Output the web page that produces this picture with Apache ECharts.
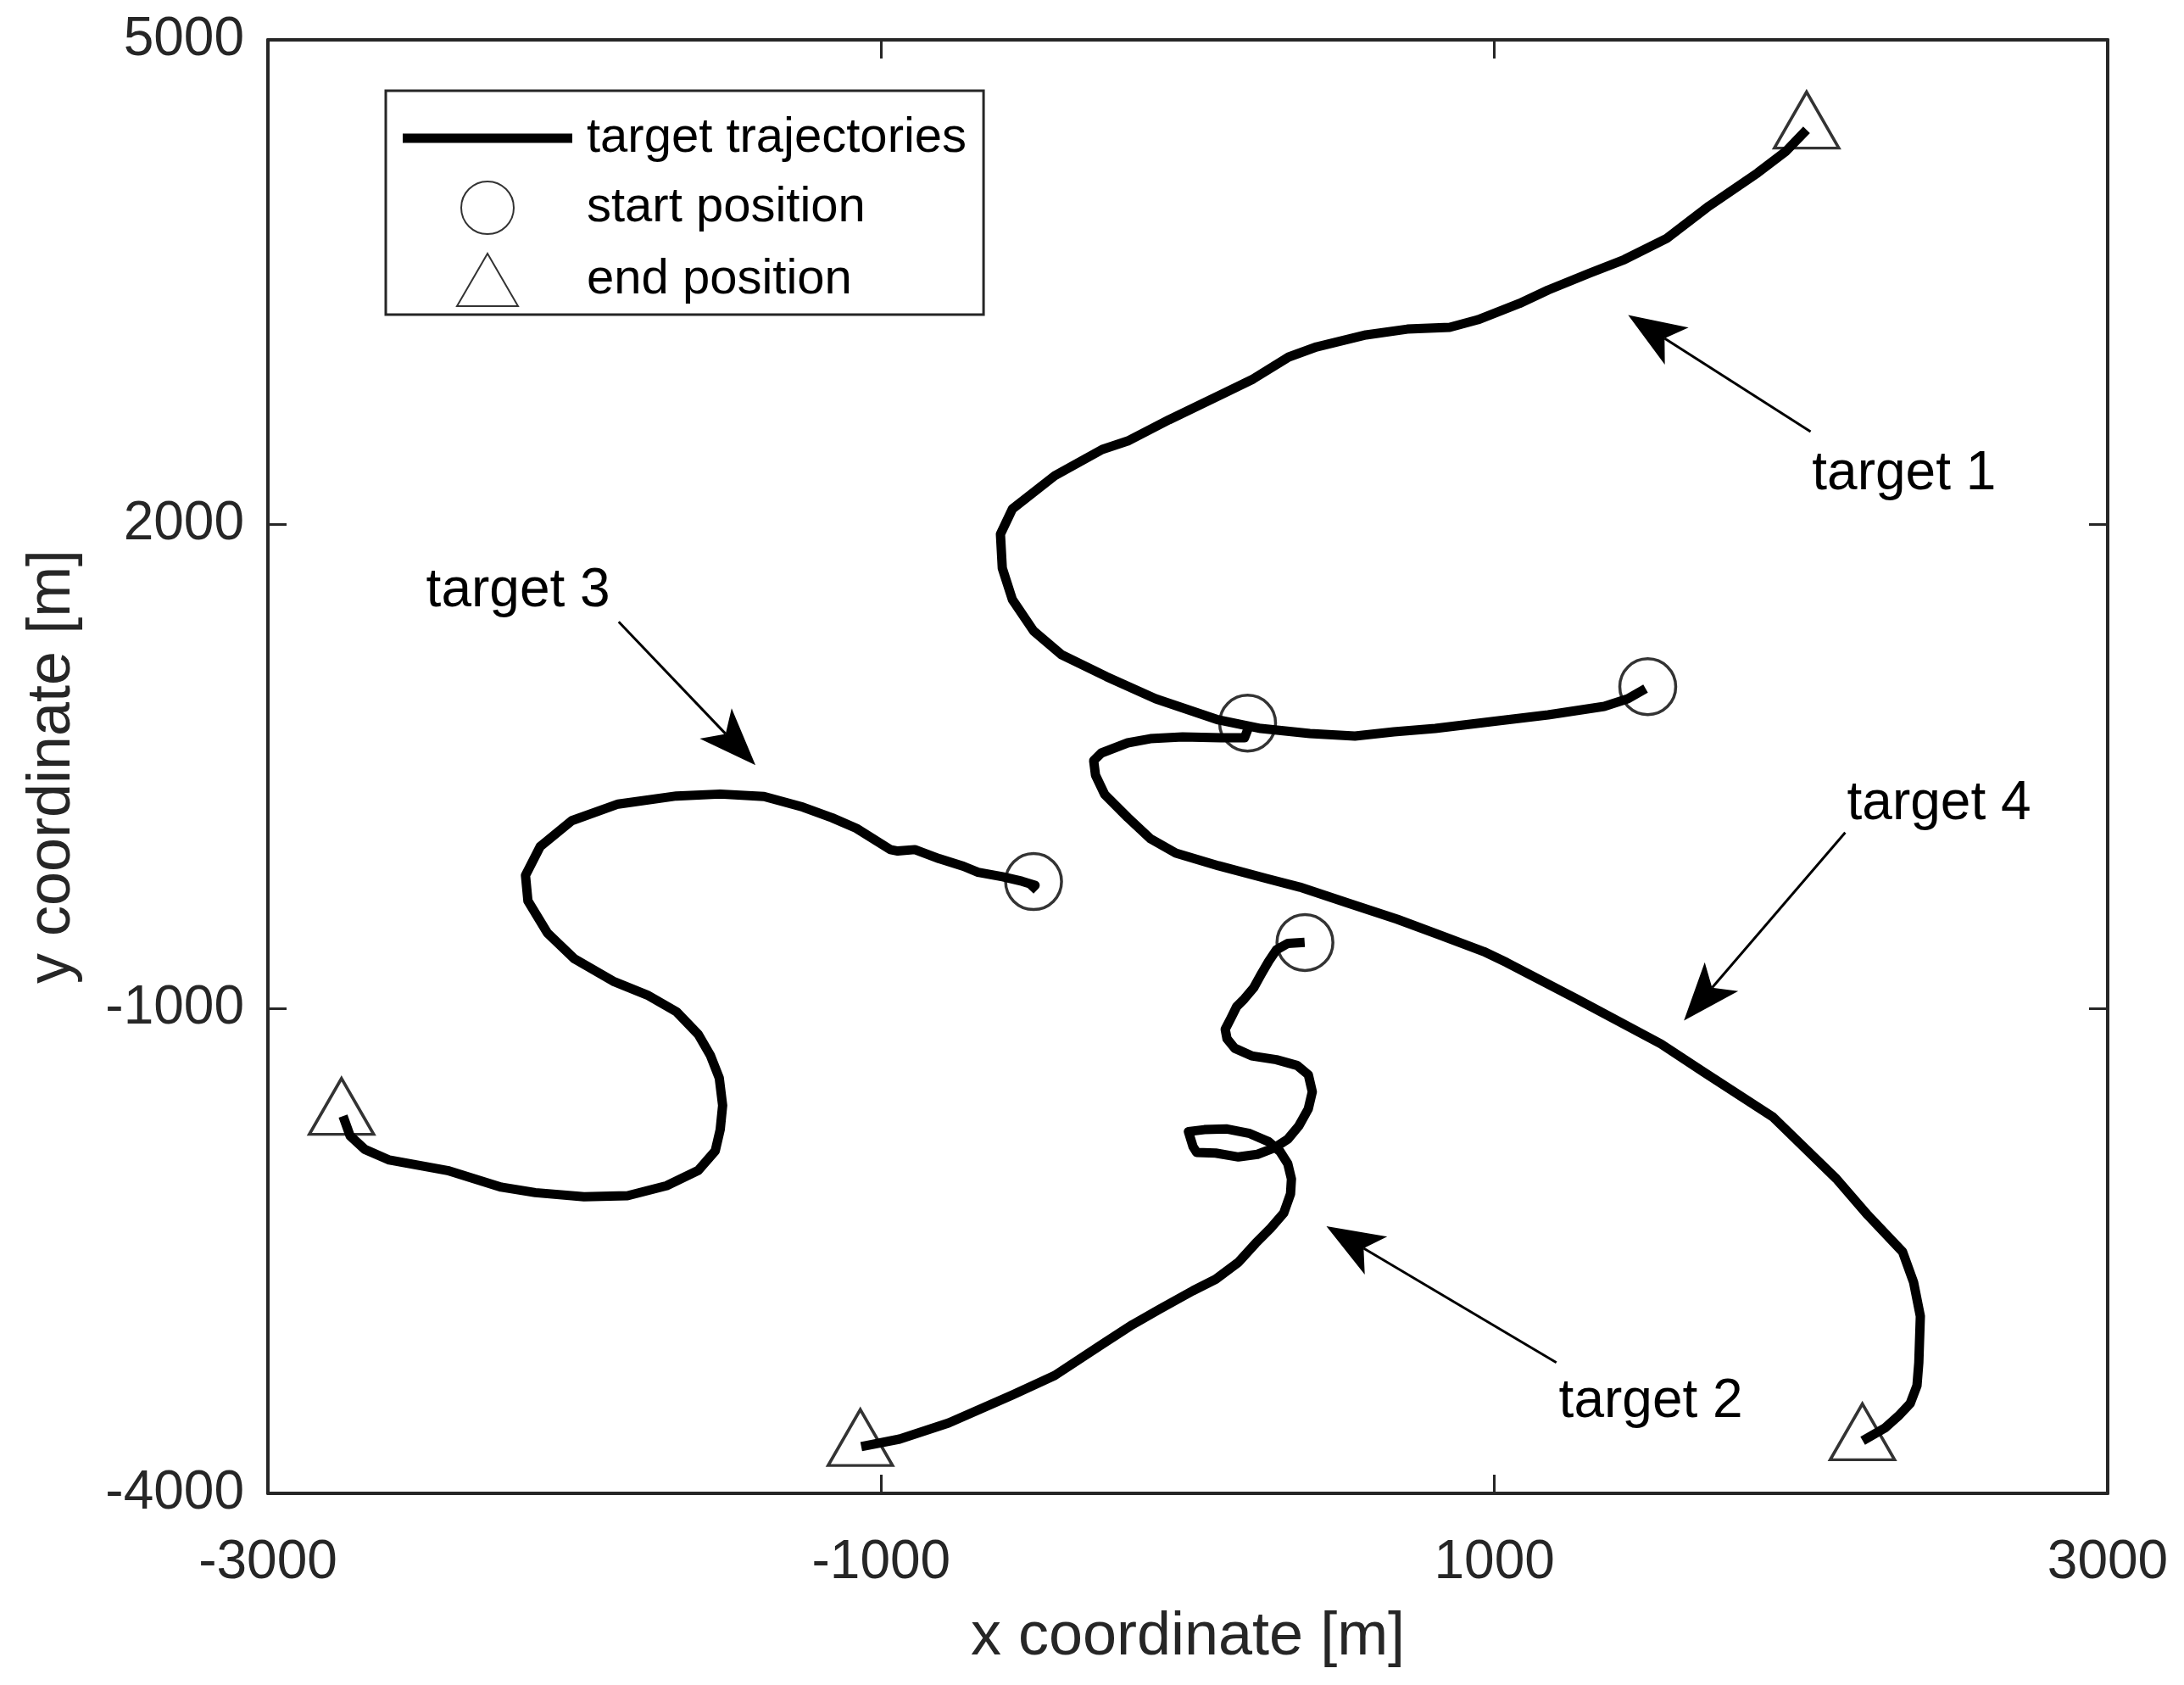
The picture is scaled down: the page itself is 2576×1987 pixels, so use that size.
<!DOCTYPE html>
<html>
<head>
<meta charset="utf-8">
<title>Target trajectories</title>
<script src="https://cdn.jsdelivr.net/npm/echarts@6/dist/echarts.min.js"></script>
<style>
  html, body { margin: 0; padding: 0; background: #fff; }
  #chart { width: 2576px; height: 1987px; }
</style>
</head>
<body>
<div id="chart"></div>
<script>
// axis ticks (m)
const xTicks = [-3000, -1000, 1000, 3000];
const yTicks = [-4000, -1000, 2000, 5000];

// trajectories (m)
const target1X = [1493, 1435, 1358, 1175, 990, 807, 672, 545, 398, 238, 100, -105, -265, -412, -503, -572, -605, -611, -572, -434, -279, -196, -61, 122, 213, 329, 420, 581, 716, 854, 946, 1081, 1175, 1311, 1424, 1562, 1700, 1858, 1949, 2018];
const target1Y = [983, 920, 873, 820, 778, 736, 715, 689, 705, 736, 789, 920, 1057, 1193, 1340, 1534, 1729, 1939, 2096, 2301, 2464, 2516, 2648, 2816, 2900, 3036, 3099, 3173, 3209, 3220, 3267, 3367, 3451, 3556, 3640, 3771, 3971, 4176, 4307, 4443];

const target2X = [381, 326, 289, 264, 239, 215, 184, 159, 141, 122, 128, 153, 208, 289, 356, 393, 406, 393, 362, 326, 282, 227, 165, 91, 29, 17, 2, 54, 128, 202, 264, 301, 326, 338, 335, 313, 270, 221, 165, 91, 17, -94, -181, -279, -434, -572, -780, -940, -1065];
const target2Y = [-588, -595, -635, -705, -787, -869, -939, -987, -1056, -1127, -1186, -1244, -1291, -1315, -1350, -1408, -1514, -1619, -1725, -1807, -1861, -1901, -1917, -1893, -1889, -1853, -1760, -1748, -1744, -1772, -1823, -1884, -1959, -2053, -2146, -2264, -2358, -2452, -2569, -2674, -2745, -2862, -2956, -3076, -3270, -3391, -3564, -3664, -3711];

const target3X = [-514, -498, -541, -604, -684, -732, -811, -890, -946, -970, -1081, -1160, -1255, -1382, -1525, -1668, -1858, -2009, -2112, -2160, -2152, -2089, -2001, -1874, -1763, -1668, -1597, -1557, -1528, -1517, -1525, -1541, -1597, -1700, -1827, -1969, -2128, -2239, -2414, -2604, -2684, -2732, -2755];
const target3Y = [-267, -235, -210, -182, -154, -117, -70, -14, -23, -14, 118, 183, 249, 315, 330, 318, 268, 165, 5, -173, -332, -529, -689, -829, -914, -1017, -1157, -1288, -1429, -1598, -1748, -1879, -2001, -2095, -2157, -2164, -2138, -2104, -2001, -1936, -1870, -1786, -1664];

const target4X = [199, 185, 108, -17, -122, -196, -282, -307, -301, -271, -196, -122, -39, 100, 257, 365, 523, 683, 818, 965, 1040, 1269, 1543, 1681, 1908, 2115, 2218, 2331, 2367, 2389, 2384, 2378, 2356, 2317, 2273, 2201];
const target4Y = [747, 679, 679, 684, 673, 647, 584, 537, 447, 327, 185, 54, -36, -114, -193, -246, -345, -445, -540, -645, -713, -939, -1217, -1390, -1669, -2052, -2278, -2504, -2693, -2903, -3191, -3333, -3443, -3522, -3596, -3675];

// start / end markers (target 1..4)
const startX = [1500, 382, -503, 195];
const startY = [995, -589, -212, 769];
const endX = [2018, -1068, -2760, 2200];
const endY = [4446, -3712, -1662, -3677];

// annotation arrows and labels (target 1..4)
const arrowFromX = [2031, 1202, -1856, 2144];
const arrowFromY = [2574, -3190, 1397, 92];
const arrowToX = [1436, 452, -1410, 1618];
const arrowToY = [3296, -2346, 509, -1072];
const labelX = [2336, 1510, -2184, 2450];
const labelY = [2312, -3433, 1587, 269];
const labelText = ["target 1", "target 2", "target 3", "target 4"];

const FONT = "'Liberation Sans', Arial, Helvetica, sans-serif";
const AXIS_COLOR = "#262626";

function pairs(xs, ys) {
  return xs.map((x, i) => [x, ys[i]]);
}

function renderArrow(params, api) {
  const a = api.coord([api.value(0), api.value(1)]);
  const b = api.coord([api.value(2), api.value(3)]);
  const t = api.coord([api.value(4), api.value(5)]);
  const dx = b[0] - a[0];
  const dy = b[1] - a[1];
  const len = Math.sqrt(dx * dx + dy * dy);
  const ux = dx / len, uy = dy / len;
  const nx = -uy, ny = ux;
  const headLen = 68, headHalf = 26;
  const back = [b[0] - ux * headLen, b[1] - uy * headLen];
  const notch = [b[0] - ux * headLen * 0.75, b[1] - uy * headLen * 0.75];
  return {
    type: "group",
    children: [
      {
        type: "line",
        shape: { x1: a[0], y1: a[1], x2: notch[0], y2: notch[1] },
        style: { stroke: "#000", lineWidth: 3 }
      },
      {
        type: "polygon",
        shape: {
          points: [
            b,
            [back[0] + nx * headHalf, back[1] + ny * headHalf],
            notch,
            [back[0] - nx * headHalf, back[1] - ny * headHalf]
          ]
        },
        style: { fill: "#000" }
      },
      {
        type: "text",
        x: t[0],
        y: t[1],
        style: {
          text: labelText[params.dataIndex],
          fill: "#000",
          fontSize: 64,
          fontFamily: FONT,
          align: "center",
          verticalAlign: "middle"
        }
      }
    ]
  };
}

const chart = echarts.init(document.getElementById("chart"));

const axisLine = { show: true, onZero: false, lineStyle: { color: AXIS_COLOR, width: 4 } };
const axisTick = { show: true, inside: true, length: 22, lineStyle: { color: AXIS_COLOR, width: 3 } };
const plainNumber = v => String(v);

const trajStyle = { color: "#000", width: 11, join: "round" };
const trajectories = [
  pairs(target1X, target1Y),
  pairs(target2X, target2Y),
  pairs(target3X, target3Y),
  pairs(target4X, target4Y)
];

chart.setOption({
  animation: false,
  backgroundColor: "#fff",
  grid: { left: 316, top: 47, width: 2170, height: 1714, containLabel: false },
  legend: {
    orient: "vertical",
    left: 455,
    top: 107,
    padding: [27, 20, 9, 20],
    itemWidth: 200,
    itemHeight: 62,
    itemGap: 21,
    selectedMode: false,
    borderColor: AXIS_COLOR,
    borderWidth: 3,
    backgroundColor: "#fff",
    textStyle: { fontSize: 58, color: "#000", fontFamily: FONT, padding: [0, 0, 0, 12] },
    data: [
      { name: "target trajectories", icon: "path://M0,0H200V11H0Z" },
      { name: "start position", icon: "circle" },
      { name: "end position", icon: "path://M36,0L72,62L0,62Z" }
    ]
  },
  xAxis: [
    {
      type: "value",
      position: "bottom",
      min: xTicks[0],
      max: xTicks[xTicks.length - 1],
      interval: xTicks[1] - xTicks[0],
      name: "x coordinate [m]",
      nameLocation: "middle",
      nameGap: 134,
      nameTextStyle: { fontSize: 72, color: AXIS_COLOR, fontFamily: FONT },
      axisLine: axisLine,
      axisTick: axisTick,
      axisLabel: { fontSize: 64, color: AXIS_COLOR, fontFamily: FONT, margin: 50, showMinLabel: true, showMaxLabel: true, formatter: plainNumber },
      splitLine: { show: false }
    },
    {
      type: "value",
      position: "top",
      min: xTicks[0],
      max: xTicks[xTicks.length - 1],
      interval: xTicks[1] - xTicks[0],
      axisLine: axisLine,
      axisTick: axisTick,
      axisLabel: { show: false },
      splitLine: { show: false }
    }
  ],
  yAxis: [
    {
      type: "value",
      position: "left",
      min: yTicks[0],
      max: yTicks[yTicks.length - 1],
      interval: yTicks[1] - yTicks[0],
      name: "y coordinate [m]",
      nameLocation: "middle",
      nameGap: 218,
      nameTextStyle: { fontSize: 72, color: AXIS_COLOR, fontFamily: FONT },
      axisLine: axisLine,
      axisTick: axisTick,
      axisLabel: { fontSize: 64, color: AXIS_COLOR, fontFamily: FONT, margin: 28, showMinLabel: true, showMaxLabel: true, formatter: plainNumber },
      splitLine: { show: false }
    },
    {
      type: "value",
      position: "right",
      min: yTicks[0],
      max: yTicks[yTicks.length - 1],
      interval: yTicks[1] - yTicks[0],
      axisLine: axisLine,
      axisTick: axisTick,
      axisLabel: { show: false },
      splitLine: { show: false }
    }
  ],
  series: trajectories.map(d => ({
    name: "target trajectories",
    type: "line",
    xAxisIndex: 0,
    yAxisIndex: 0,
    data: d,
    symbol: "none",
    color: "#000",
    itemStyle: { color: "#000" },
    lineStyle: trajStyle,
    z: 2
  })).concat([
    {
      name: "start position",
      type: "scatter",
      data: pairs(startX, startY),
      symbol: "circle",
      symbolSize: 66,
      itemStyle: { color: "rgba(0,0,0,0)", borderColor: "#000", borderWidth: 3.5 },
      z: 3
    },
    {
      name: "end position",
      type: "scatter",
      data: pairs(endX, endY),
      symbol: "triangle",
      symbolSize: [76, 66],
      symbolOffset: [0, -11],
      itemStyle: { color: "rgba(0,0,0,0)", borderColor: "#000", borderWidth: 3.5 },
      z: 3
    },
    {
      name: "annotations",
      type: "custom",
      coordinateSystem: "cartesian2d",
      renderItem: renderArrow,
      data: arrowFromX.map((x, i) => [x, arrowFromY[i], arrowToX[i], arrowToY[i], labelX[i], labelY[i]]),
      z: 4
    }
  ])
});
</script>
</body>
</html>
